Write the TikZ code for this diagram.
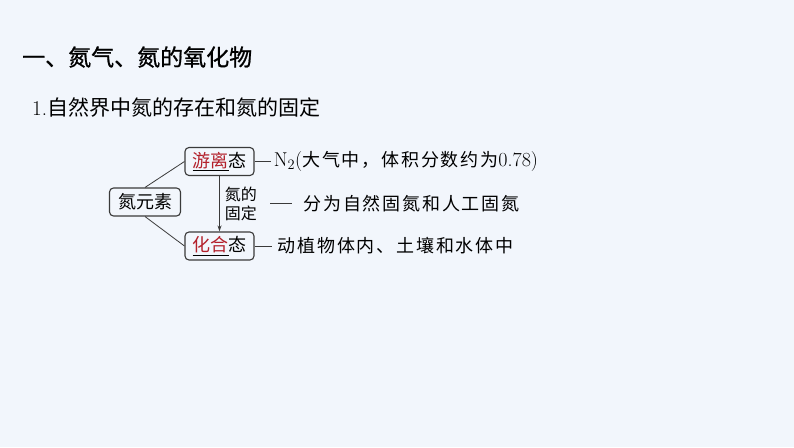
\documentclass[tikz,border=0pt]{standalone}
\usepackage{fontspec}
\usepackage{tikz}
\usetikzlibrary{positioning,arrows.meta}
\newfontfamily\cjk{Noto Sans CJK SC}
\newfontfamily\cjkhead[FakeBold=0.8]{Noto Sans CJK SC}
\newfontfamily\cjkwide[LetterSpace=10]{Noto Sans CJK SC}
\definecolor{bgblue}{HTML}{F2F6FC}
\definecolor{hlred}{HTML}{B3202B}
\definecolor{boxgray}{HTML}{3A3A3A}
\newcommand{\hl}[1]{\underline{\textcolor{hlred}{#1}}}

\begin{document}
\begin{tikzpicture}[x=1pt,y=-1pt,
  elembox/.style={draw=boxgray,line width=1.1pt,rounded corners=4pt,minimum width=69pt,minimum height=28pt,inner sep=2pt,font=\cjk\fontsize{18}{20}\selectfont},
  desc/.style={inner sep=3pt,font=\cjkwide\fontsize{18}{20}\selectfont},
  link/.style={draw=boxgray,line width=0.8pt}]
\useasboundingbox[fill=bgblue] (0,0) rectangle (794,447);

\node[anchor=west,inner sep=0pt,font=\cjkhead\fontsize{23}{26}\selectfont] (title) at (22,57) {一、氮气、氮的氧化物};
\node[anchor=west,inner sep=0pt,font=\fontsize{21}{24}\selectfont] (subtitle) at (32,107) {1.{\cjk 自然界中氮的存在和氮的固定}};

\node[elembox,minimum width=71pt] (elem) at (145,202) {氮元素};
\node[elembox] (free) at (219.5,161.5) {\hl{游离}态};
\node[elembox] (comb) at (219.5,246) {\hl{化合}态};

\draw[link] (elem.north) -- (free.west);
\draw[link] (elem.south) -- (comb.west);
\draw[link,-{Stealth[length=6pt,width=4pt]}] (free.south) -- (comb.north)
  node[midway,right,align=left,inner sep=5pt,font=\cjk\fontsize{16}{19}\selectfont] (fixlbl) {氮的\\固定};

\node[desc,right=16pt of free] (freetxt) {{\fontspec{Latin Modern Roman}\fontsize{20}{22}\selectfont N$_2$(}大气中，体积分数约为{\fontspec{Latin Modern Roman}\fontsize{20}{22}\selectfont 0.78)}};
\node[desc,right=38pt of fixlbl] (fixtxt) {分为自然固氮和人工固氮};
\node[desc,right=20pt of comb] (combtxt) {动植物体内、土壤和水体中};

\draw[link] (free) -- (freetxt);
\draw[link,shorten <=8pt,shorten >=8pt] (fixlbl) -- (fixtxt);
\draw[link,shorten >=3pt] (comb) -- (combtxt);
\end{tikzpicture}
\end{document}
